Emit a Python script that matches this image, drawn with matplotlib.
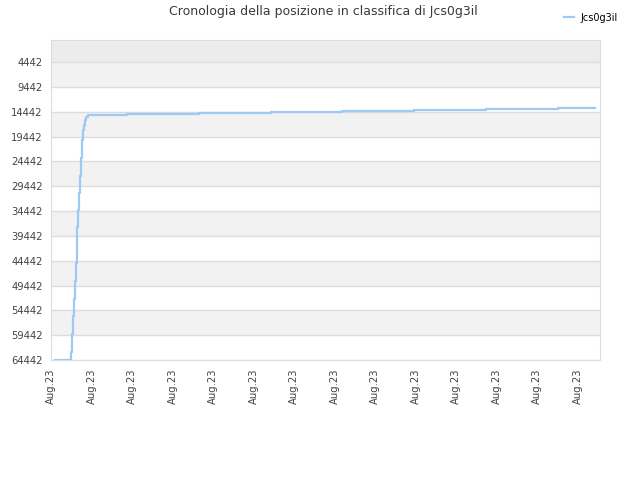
import numpy as np
import matplotlib
matplotlib.use("Agg")
import matplotlib.pyplot as plt

# hours since first tick, rank position
hours = [2.4, 11.67, 12.27, 12.86, 13.45, 14.04, 14.64, 15.23, 15.55, 15.82,
         16.59, 17.36, 17.96, 18.55, 19.14, 19.73, 20.33, 20.92, 21.75,
         45.0, 87.7, 130.4, 172.4, 215.1, 257.8, 300.4, 322.4]
rank = [64442, 62770, 59206, 55582, 52160, 48535, 44911, 41489, 37664, 34241,
        30818, 27396, 23772, 20147, 18133, 17127, 16120, 15516, 15113,
        14912, 14711, 14510, 14280, 14060, 13850, 13640, 13640]

yticks = list(range(4442, 64443, 5000))
xticks = list(range(0, 313, 24))
xlabels = ["Aug.23"] * len(xticks)
player = "Jcs0g3il"

fig = plt.figure(figsize=(6.4, 4.8), dpi=100)
ax = fig.add_axes([51/640, 120/480, 549/640, 320/480])

# background bands
ax.axhspan(0, 4442, color="#ececec", zorder=0, lw=0)
for i, t in enumerate(yticks[:-1]):
    if i % 2 == 0:
        ax.axhspan(t, t + 5000, color="#f2f2f2", zorder=0, lw=0)
for t in yticks:
    ax.axhline(t, color="#dddddd", lw=1, zorder=1)

ax.plot(hours, rank, drawstyle="steps-post", color="#9ccaf4", lw=1.6,
        label=player, zorder=3)

ax.set_ylim(64442, 0)
ax.set_xlim(0, 549/40.5*24)
ax.set_yticks(yticks)
ax.set_yticklabels([str(t) for t in yticks], fontsize=7.2, color="#444444")
ax.set_xticks(xticks)
ax.set_xticklabels(xlabels, rotation=90, fontsize=7.2, color="#444444")
ax.tick_params(length=0, pad=6)
for s in ax.spines.values():
    s.set_color("#dddddd")

fig.text(0.505, 0.99, "Cronologia della posizione in classifica di " + player,
         ha="center", va="top", fontsize=9, color="#3a3a3a")
fig.legend(loc="upper right", bbox_to_anchor=(0.978, 0.99), frameon=False,
           fontsize=7, handlelength=1.0, handletextpad=0.7, borderaxespad=0.4)

fig.savefig("out.png", dpi=100)
